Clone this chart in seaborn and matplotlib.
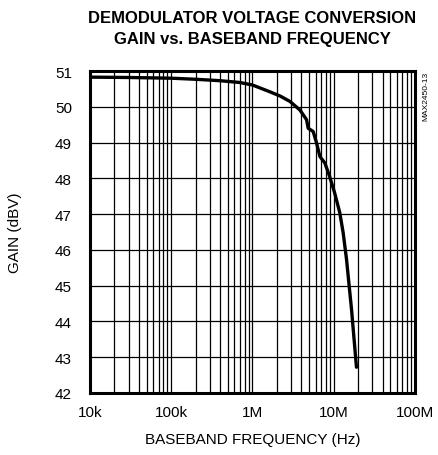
import numpy as np
import pandas as pd
import seaborn as sns
import matplotlib
matplotlib.use("Agg")
import matplotlib.pyplot as plt
from matplotlib.ticker import FixedLocator, LogLocator, NullFormatter

# 读取的曲线数据 (Hz, dBV)
freq_hz = [1.0e4, 3.0e4, 1.0e5, 2.0e5, 4.0e5, 7.0e5, 1.0e6, 1.64e6, 2.2e6, 2.9e6,
           3.85e6, 4.64e6, 4.86e6, 5.6e6, 6.16e6, 6.77e6, 7.8e6, 8.9e6, 10.3e6,
           11.9e6, 13.1e6, 14.4e6, 16.6e6, 19.1e6]
gain_dbv = [50.83, 50.82, 50.80, 50.77, 50.73, 50.68, 50.61, 50.42, 50.30, 50.15,
            49.91, 49.64, 49.40, 49.31, 48.99, 48.61, 48.43, 48.06, 47.59,
            47.04, 46.48, 45.74, 44.34, 42.72]
x_ticks = [1e4, 1e5, 1e6, 1e7, 1e8]
x_labels = ["10k", "100k", "1M", "10M", "100M"]
y_ticks = [42, 43, 44, 45, 46, 47, 48, 49, 50, 51]

df = pd.DataFrame({"freq": freq_hz, "gain": gain_dbv})

sns.set_style("white")
plt.rcParams["font.family"] = ["Liberation Sans", "DejaVu Sans"]
plt.rcParams["text.color"] = "black"
plt.rcParams["axes.labelcolor"] = "black"
plt.rcParams["xtick.color"] = "black"
plt.rcParams["ytick.color"] = "black"

fig = plt.figure(figsize=(4.39, 4.56), dpi=100)
ax = fig.add_axes([0.205, 0.136, 0.740, 0.706])

sns.lineplot(data=df, x="freq", y="gain", ax=ax, color="black", linewidth=2.4)

ax.set_xscale("log")
ax.set_xlim(1e4, 1e8)
ax.set_ylim(42, 51)
ax.xaxis.set_major_locator(FixedLocator(x_ticks))
ax.set_xticklabels(x_labels)
ax.xaxis.set_minor_locator(LogLocator(base=10, subs=np.arange(2, 10)))
ax.xaxis.set_minor_formatter(NullFormatter())
ax.set_yticks(y_ticks)

ax.grid(which="major", axis="both", color="black", linewidth=0.9)
ax.grid(which="minor", axis="x", color="black", linewidth=0.9)
ax.tick_params(which="both", length=0, labelsize=11)
ax.tick_params(axis="x", pad=9)
ax.tick_params(axis="y", pad=13)
for s in ax.spines.values():
    s.set_linewidth(2.2)
    s.set_color("black")

ax.set_xlabel("BASEBAND FREQUENCY (Hz)", fontsize=11, labelpad=9)
ax.set_ylabel("GAIN (dBV)", fontsize=11, labelpad=24)
ax.set_title("DEMODULATOR VOLTAGE CONVERSION\nGAIN vs. BASEBAND FREQUENCY",
             fontsize=12, fontweight="bold", pad=20, linespacing=1.5)
ax.text(1.035, 1.0, "MAX2450-13", transform=ax.transAxes, rotation=90,
        fontsize=6, va="top", ha="center")

fig.savefig("out.png", dpi=100)
